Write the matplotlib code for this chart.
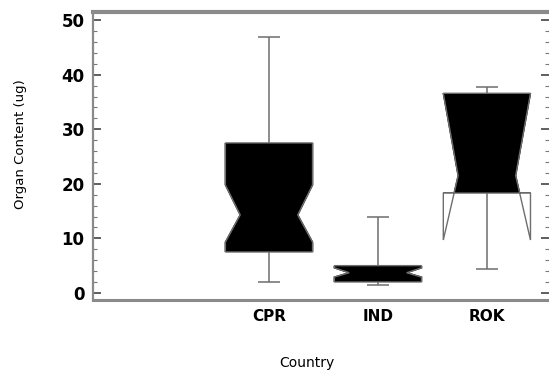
import matplotlib
matplotlib.use('Agg')
import matplotlib.pyplot as plt
from matplotlib.patches import Polygon, Rectangle
from matplotlib.ticker import MultipleLocator
import numpy as np

# ---- data ----
categories = ['CPR', 'IND', 'ROK']
q1 = [7.5, 2.0, 18.3]
med = [14.3, 3.7, 21.5]
q3 = [27.5, 5.0, 36.6]
ci_lo = [9.3, 2.9, 9.7]
ci_hi = [19.8, 4.6, 36.6]
whis_lo = [2.0, 1.5, 4.3]
whis_hi = [47.0, 13.9, 37.8]
y_ticks = [0, 10, 20, 30, 40, 50]

plt.rcParams['font.family'] = ['DejaVu Sans']

fig = plt.figure(figsize=(5.49, 3.72), dpi=100)
ax = fig.add_axes([93 / 549, 72 / 372, 1 - 93 / 549, 288 / 372])

positions = np.arange(1, len(categories) + 1)
box_w = 0.8
waist = 0.66
cap_w = 0.2
grey = '#6e6e6e'

# whiskers and caps
ax.vlines(positions, q3, whis_hi, color=grey, lw=1.1, zorder=1)
ax.vlines(positions, whis_lo, q1, color=grey, lw=1.1, zorder=1)
ax.hlines(whis_hi, positions - cap_w / 2, positions + cap_w / 2, color=grey, lw=1.1, zorder=1)
ax.hlines(whis_lo, positions - cap_w / 2, positions + cap_w / 2, color=grey, lw=1.1, zorder=1)

# notched boxes
for p, a, m, b, lo, hi in zip(positions, q1, med, q3, ci_lo, ci_hi):
    L, R = p - box_w / 2, p + box_w / 2
    nl, nr = p - waist * box_w / 2, p + waist * box_w / 2
    verts = [(L, a), (R, a), (R, lo), (nr, m), (R, hi), (R, b),
             (L, b), (L, hi), (nl, m), (L, lo), (L, a)]
    fill = Polygon(verts, closed=True, facecolor='black', edgecolor='black',
                   lw=1.0, zorder=2)
    ax.add_patch(fill)
    clip = Rectangle((L - 0.05, a), box_w + 0.1, b - a, transform=ax.transData)
    fill.set_clip_path(clip)
    outline = Polygon(verts, closed=True, facecolor='none', edgecolor=grey,
                      lw=1.0, zorder=3)
    ax.add_patch(outline)

ax.set_xlim(-0.615, 3.57)
ax.set_ylim(-1.3, 51.5)

ax.set_xticks(positions)
ax.set_xticklabels(categories, fontweight='bold', fontsize=11)
ax.tick_params(axis='x', length=0, pad=6.5)

ax.set_yticks(y_ticks)
ax.set_yticklabels([str(t) for t in y_ticks], fontweight='bold', fontsize=12)
ax.yaxis.set_minor_locator(MultipleLocator(2))
ax.tick_params(axis='y', which='major', direction='in', length=6, width=1.2,
               color='#444444', left=True, right=True, pad=6)
ax.tick_params(axis='y', which='minor', direction='in', length=3, width=0.8,
               color='#777777', left=True, right=True)

for s in ['left', 'bottom', 'top', 'right']:
    ax.spines[s].set_color('#8a8a8a')
ax.spines['left'].set_linewidth(1.6)
ax.spines['bottom'].set_linewidth(2.2)
ax.spines['top'].set_linewidth(3.0)
ax.spines['right'].set_visible(False)

ax.set_ylabel('Organ Content (ug)', fontsize=9.5)
ax.yaxis.set_label_coords(-0.145, 0.542)
ax.set_xlabel('Country', fontsize=10)
ax.xaxis.set_label_coords((307 - 93) / (549 - 93), -0.196)

fig.savefig('out.png', dpi=100)
